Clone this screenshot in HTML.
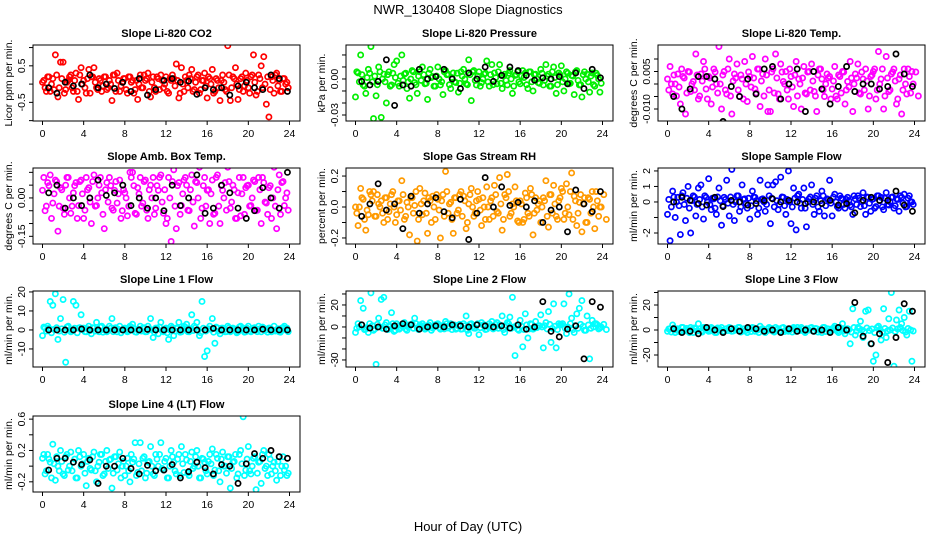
<!DOCTYPE html>
<html><head><meta charset="utf-8"><title>NWR_130408 Slope Diagnostics</title>
<style>
html,body{margin:0;padding:0;background:#fff;}
svg{display:block;font-family:"Liberation Sans",sans-serif;}
</style></head>
<body>
<svg id="chart" width="936" height="540" viewBox="0 0 936 540" xmlns="http://www.w3.org/2000/svg">
<rect x="0" y="0" width="936" height="540" fill="#fff"/>
<text x="468" y="14" text-anchor="middle" font-size="13">NWR_130408  Slope Diagnostics</text>
<text x="468" y="531" text-anchor="middle" font-size="13">Hour of Day (UTC)</text>
</svg>
<script>
// ---- data (colored series at hour = index*0.25; band series at index*0.25+0.125 in band units; black at 0.6+index*0.8) ----
const xTickValues = [0,4,8,12,16,20,24];
const co2Values = [0.05,-0.1,0.2,-0.2,0.15,0.8,-0.35,0.6,0.6,-0.15,0.1,0.25,-0.2,0.3,-0.42,0.45,0.1,-0.25,0.4,0.2,0.45,-0.1,0.15,-0.2,0.2,-0.15,0.1,-0.45,0.25,0.3,-0.2,0.05,0.15,-0.25,0.2,0.1,-0.15,-0.42,0.25,-0.1,0.1,0.3,-0.35,0.2,-0.2,0.15,0.25,-0.1,0.2,-0.25,0.1,0.15,0.55,-0.38,0.45,-0.2,0.1,0.25,0.4,-0.15,0.2,-0.25,0.1,0.3,-0.38,0.15,0.4,-0.2,0.1,-0.45,0.25,-0.15,1.05,-0.45,0.2,0.45,-0.42,0.15,-0.2,0.3,-0.1,0.2,0.8,-0.3,0.25,0.5,0.75,-0.55,-0.9,0.2,-0.25,0.3,0.1,-0.2,0.15,0.05];
const co2Band = [2,-4,4,0,-3,5,-2,3,-5,1,4,-2,2,-4,5,0,-2,3,-5,4,1,-3,2,-1,4,-2,0,5,-4,2,-1,3,-3,4,1,-5,2,0,-2,5,3,-4,1,-2,4,-3,2,0,-4,3,5,-1,2,-5,0,4,-2,3,-4,1,5,-3,2,-1,4,0,-5,3,-2,2,1,-4,5,-2,3,0,-3,4,-1,2,-5,5,1,-4,3,-2,0,4,-3,2,5,-1,-4,3,0,-2];
const co2BandUnit = 0.05;
const co2Black = [-0.1,-0.25,0.05,-0.05,0.0,0.25,-0.1,0.0,-0.12,0.05,-0.2,0.15,-0.3,-0.15,0.1,0.15,0.05,0.08,-0.28,-0.1,-0.15,-0.1,-0.3,-0.05,0.05,-0.1,-0.15,0.25,0.15,-0.2];
const co2Ticks = [-1,-0.5,0,0.5,1];
const co2TickLabels = ["","-0.5","","0.5",""];

const presValues = [-0.015,0.005,0.02,-0.005,-0.012,0.008,0.027,-0.033,-0.014,0.01,-0.032,0.004,-0.02,0.006,-0.005,0.012,0.015,-0.006,0.02,0.004,-0.008,-0.016,0.007,-0.003,-0.012,0.006,0.01,-0.004,-0.017,0.008,0.002,-0.006,0.01,-0.005,-0.013,0.007,0.004,-0.008,0.005,-0.003,-0.011,0.006,0.008,-0.004,0.016,-0.018,0.007,-0.005,0.006,-0.003,0.004,0.015,-0.006,0.012,0.005,-0.004,0.012,-0.008,0.004,-0.005,0.007,-0.012,0.003,0.006,-0.004,0.007,0.005,-0.008,0.006,-0.01,0.004,-0.003,0.008,-0.005,0.012,0.004,-0.006,0.01,-0.012,0.005,0.011,-0.01,0.006,-0.004,0.003,-0.013,0.007,-0.005,-0.015,0.006,0.004,-0.011,0.005,-0.006,0.003,-0.011];
const presBand = [5,-2,3,-5,1,4,-2,2,-4,5,0,-2,3,-5,4,1,-3,2,-1,4,-2,0,5,-4,2,-1,3,-3,4,1,-5,2,0,-2,5,3,-4,1,-2,4,-3,2,0,-4,3,5,-1,2,-5,0,4,-2,3,-4,1,5,-3,2,-1,4,0,-5,3,-2,2,1,-4,5,-2,3,0,-3,4,-1,2,-5,5,1,-4,3,-2,0,4,-3,2,5,-1,-4,3,0,-2,2,-4,4,0,-3];
const presBandUnit = 0.0012;
const presBlack = [-0.002,-0.005,-0.002,0.016,-0.022,-0.005,-0.006,0.008,0.0,0.002,0.008,0.0,-0.008,0.005,0.0,0.01,-0.002,0.003,0.01,0.007,0.003,-0.001,0.001,0.0,0.002,-0.004,0.005,-0.008,0.008,0.001];
const presTicks = [0.02,0.01,0,-0.01,-0.02,-0.03];
const presTickLabels = ["","","0.00","","","-0.03"];

const tempValues = [0.002,0.007,-0.004,0.0,0.004,-0.008,0.003,-0.012,0.005,-0.003,0.001,0.012,-0.006,0.004,0.009,-0.002,0.003,-0.008,0.006,0.0,0.015,-0.01,0.005,-0.004,0.01,-0.012,0.004,0.008,-0.005,0.002,0.009,-0.007,0.003,0.011,-0.002,0.006,-0.009,0.004,0.01,-0.011,-0.011,0.006,0.012,-0.004,0.008,0.001,0.005,-0.006,0.003,-0.009,0.009,0.002,-0.01,0.007,-0.004,0.005,0.008,-0.003,-0.011,0.006,0.002,-0.005,0.004,0.003,-0.002,0.007,-0.006,0.003,0.005,-0.008,0.001,0.009,-0.011,0.004,0.008,-0.004,0.002,0.006,-0.01,0.003,0.005,-0.006,0.013,0.002,-0.01,0.011,-0.003,0.004,0.006,-0.008,0.002,-0.012,0.006,-0.004,0.003,0.005];
const tempBand = [-2,0,3,-4,-1,5,2,-3,4,0,-2,3,-4,1,5,-5,2,-1,4,-3,0,3,-2,5,-4,1,2,-2,3,-5,0,4,-1,2,-3,5,1,-4,3,-2,4,-3,2,-5,4,0,-2,5,-1,3,-4,0,2,-3,4,-2,1,-4,3,5,-2,0,2,-5,1,-4,3,-3,4,-2,-1,2,0,2,-3,4,-2,1,-4,3,5,-2,0,5,-4,2,-2,4,1,-5,3,-2,0,5,-3,0,4,-4];
const tempBandUnit = 0.0012;
const tempBlack = [-0.005,-0.01,-0.002,0.003,0.003,0.002,-0.015,-0.001,-0.005,0.002,-0.004,0.006,0.007,-0.006,0.0,0.006,-0.011,0.005,-0.002,-0.008,-0.001,0.007,-0.003,0.0,0.0,-0.002,-0.001,0.012,0.004,-0.001];
const tempTicks = [0.01,0.005,0,-0.005,-0.01];
const tempTickLabels = ["","0.005","","","-0.010"];

const ambValues = [0.03,-0.05,0.06,0.09,-0.02,0.07,-0.13,0.04,-0.04,0.05,0.08,-0.06,0.02,0.06,-0.03,0.07,-0.08,0.08,0.04,-0.1,0.09,-0.03,0.05,0.02,-0.12,0.06,0.08,-0.04,0.03,-0.02,0.07,-0.05,0.02,-0.07,0.1,0.1,-0.06,0.04,0.08,-0.02,0.07,-0.08,0.05,0.08,-0.04,0.03,0.09,-0.06,-0.1,0.08,-0.17,0.11,-0.12,0.06,-0.03,0.07,0.05,-0.05,0.09,-0.11,0.06,0.12,-0.04,0.08,0.03,-0.1,0.07,-0.06,0.09,-0.1,0.03,0.06,0.12,-0.04,0.05,-0.08,0.02,-0.07,0.08,0.04,0.05,-0.03,0.07,-0.05,0.08,-0.1,0.06,-0.02,0.04,-0.08,0.12,-0.12,0.09,0.06,-0.03,0.02];
const ambBand = [5,-2,3,-5,1,4,-2,2,-4,5,0,-2,3,-5,4,1,-3,2,-1,4,-2,0,5,-4,2,-1,3,-3,4,1,-5,2,0,-2,5,3,-4,1,-2,4,-3,2,0,-4,3,5,-1,2,-5,0,4,-2,3,-4,1,5,-3,2,-1,4,0,-5,3,-2,2,1,-4,5,-2,3,0,-3,4,-1,2,-5,5,1,-4,3,-2,0,4,-3,2,5,-1,-4,3,0,-2,2,-4,4,0,-3];
const ambBandUnit = 0.016;
const ambBlack = [0.02,0.05,-0.04,0.0,-0.03,0.0,0.07,0.01,0.02,0.05,-0.03,0.0,-0.04,0.0,-0.05,0.05,-0.03,0.0,0.09,-0.06,-0.04,0.05,0.02,-0.04,-0.08,-0.05,0.04,0.0,-0.04,0.1];
const ambTicks = [0.1,0.05,0,-0.05,-0.1,-0.15];
const ambTickLabels = ["","","0.00","","","-0.15"];

const rhValues = [0.0,-0.12,0.12,0.05,-0.15,-0.05,0.08,0.1,-0.06,0.02,0.04,-0.1,0.06,-0.03,0.08,0.0,-0.05,0.04,0.17,-0.08,0.03,-0.18,0.06,0.01,-0.22,0.12,-0.05,0.09,-0.17,0.04,0.07,-0.08,0.05,-0.2,0.08,0.23,-0.04,0.03,-0.17,0.06,-0.02,0.1,0.07,-0.14,0.02,0.12,-0.06,0.04,0.05,-0.12,0.0,0.13,-0.08,0.06,0.14,-0.03,0.19,-0.15,0.08,0.21,-0.06,0.02,0.13,-0.09,0.04,-0.1,0.09,-0.04,0.12,-0.18,0.06,0.02,-0.1,0.06,0.17,-0.13,0.08,0.14,-0.06,0.04,0.12,-0.08,0.15,-0.05,0.22,0.07,-0.12,0.03,-0.16,0.06,-0.1,0.05,0.1,-0.14,0.04,0.0];
const rhBand = [-2,0,3,-4,-1,5,2,-3,4,0,-2,3,-4,1,5,-5,2,-1,4,-3,0,3,-2,5,-4,1,2,-2,3,-5,0,4,-1,2,-3,5,1,-4,3,-2,4,-3,2,-5,4,0,-2,5,-1,3,-4,0,2,-3,4,-2,1,-4,3,5,-2,0,2,-5,1,-4,3,-3,4,-2,-1,2,0,2,-3,4,-2,1,-4,3,5,-2,0,5,-4,2,-2,4,1,-5,3,-2,0,5,-3,0,4,-4];
const rhBandUnit = 0.02;
const rhBlack = [-0.06,0.02,0.15,-0.02,0.02,-0.14,0.07,-0.04,0.02,0.06,-0.03,-0.07,0.05,-0.21,-0.04,0.19,0.0,0.13,0.01,0.03,0.0,0.04,-0.1,-0.02,0.0,-0.16,0.11,0.02,-0.03,0.1];
const rhTicks = [0.2,0.1,0,-0.1,-0.2];
const rhTickLabels = ["0.2","","0.0","","-0.2"];

const flowValues = [-0.8,-2.5,0.7,-1.0,0.3,-2.1,0.6,-1.2,1.0,-2.0,0.4,-0.9,0.9,1.1,-1.1,0.3,1.5,-0.5,0.2,-0.8,0.9,-1.5,0.3,1.4,-0.9,2.1,-1.2,0.4,-0.6,1.1,0.2,-0.4,-1.1,0.7,0.3,-0.8,1.4,0.2,-0.6,1.1,-1.4,1.1,1.3,-0.5,1.6,0.3,-0.8,2.0,-1.4,0.9,-1.8,0.5,-0.4,0.9,-1.6,0.2,1.1,-0.8,0.4,-0.6,0.7,-0.9,0.2,1.4,-0.9,0.5,-0.3,0.4,0.2,-0.4,0.3,-0.2,-0.8,0.2,0.4,-0.3,0.6,-0.8,0.3,-0.6,0.2,-0.3,0.4,0.3,-0.5,0.6,-0.2,0.3,-0.4,0.2,-0.6,0.3,0.5,-0.3,0.4,0.0];
const flowBand = [2,-4,4,0,-3,5,-2,3,-5,1,4,-2,2,-4,5,0,-2,3,-5,4,1,-3,2,-1,4,-2,0,5,-4,2,-1,3,-3,4,1,-5,2,0,-2,5,3,-4,1,-2,4,-3,2,0,-4,3,5,-1,2,-5,0,4,-2,3,-4,1,5,-3,2,-1,4,0,-5,3,-2,2,1,-4,5,-2,3,0,-3,4,-1,2,-5,5,1,-4,3,-2,0,4,-3,2,5,-1,-4,3,0,-2];
const flowBandUnit = 0.08;
const flowBlack = [0.0,0.3,0.1,-0.1,-0.2,0.3,-0.3,0.1,0.0,-0.2,-0.1,0.1,0.2,0.0,0.1,0.0,-0.1,0.0,-0.1,0.1,-0.2,-0.1,-0.7,0.1,0.3,0.1,0.1,0.7,-0.2,-0.6];
const flowTicks = [2,1,0,-1,-2];
const flowTickLabels = ["2","1","0","","-2"];

const line1Values = [-3,1,2,15,13,19,-5,6,16,-17,2,-1,15,13,1,8,1,-1,2,-2,1,4,-1,2,0,-1,2,6,1,-1,2,0,1,-1,2,3,-1,0,2,1,-1,2,6,-4,1,-2,4,-1,1,-5,2,-3,1,4,-1,2,3,-1,8,2,4,-3,15,-14,-11,2,6,-7,1,-2,1,-1,2,-1,1,0,-1,2,1,-1,2,-1,1,0,2,-1,1,0,1,-1,2,0,-1,1,2,1];
const line1Band = [5,-2,3,-5,1,4,-2,2,-4,5,0,-2,3,-5,4,1,-3,2,-1,4,-2,0,5,-4,2,-1,3,-3,4,1,-5,2,0,-2,5,3,-4,1,-2,4,-3,2,0,-4,3,5,-1,2,-5,0,4,-2,3,-4,1,5,-3,2,-1,4,0,-5,3,-2,2,1,-4,5,-2,3,0,-3,4,-1,2,-5,5,1,-4,3,-2,0,4,-3,2,5,-1,-4,3,0,-2,2,-4,4,0,-3];
const line1BandUnit = 0.3;
const line1Black = [0,0,0,0,0.5,0,0,0,0,0,0,0,0.3,0,0,0,0,0,0,0,0.8,0,0,0,0,0,0.4,0,0,0];
const line1Ticks = [20,10,0,-10];
const line1TickLabels = ["20","10","0","-10"];

const line2Values = [-5,3,24,17,-2,-5,31,-3,-34,8,25,27,4,-2,13,-4,3,-2,1,4,-3,2,3,8,-1,2,3,-2,1,4,-1,2,3,-2,1,5,-1,3,2,-2,1,-2,3,10,-6,3,-1,2,-7,4,2,-2,3,5,-1,4,2,10,-5,4,9,27,-26,-2,6,-18,12,-10,3,-2,5,1,11,-19,4,14,-14,21,-19,3,2,21,-6,30,8,-5,12,17,24,-3,10,-29,6,3,2,-1];
const line2Band = [-2,0,3,-4,-1,5,2,-3,4,0,-2,3,-4,1,5,-5,2,-1,4,-3,0,3,-2,5,-4,1,2,-2,3,-5,0,4,-1,2,-3,5,1,-4,3,-2,4,-3,2,-5,4,0,-2,5,-1,3,-4,0,2,-3,4,-2,1,-4,3,5,-2,0,2,-5,1,-4,3,-3,4,-2,-1,2,0,2,-3,4,-2,1,-4,3,5,-2,0,5,-4,2,-2,4,1,-5,3,-2,0,5,-3,0,4,-4];
const line2BandUnit = 0.6;
const line2Black = [2,-1,0,-2,1,3,2,-2,0,1,0,2,1,0,2,1,0,1,-1,2,-2,0,23,-4,-9,-2,1,-29,23,18];
const line2Ticks = [30,20,10,0,-10,-20,-30];
const line2TickLabels = ["","20","","0","","","-30"];

const line3Values = [-1,1,4,-2,1,-1,2,0,-1,2,-2,1,5,-1,2,1,-1,2,0,-2,1,2,-1,1,2,-1,1,0,2,-1,1,-2,1,2,-1,0,3,1,-2,1,0,-1,2,1,-1,2,0,-1,1,2,-1,0,2,-1,1,0,2,-1,1,0,-2,2,1,-1,1,3,-1,2,5,-3,1,-11,17,-4,2,7,-6,15,16,-11,-25,-20,3,-8,17,-6,9,30,-29,8,16,5,10,-4,15,-25];
const line3Band = [2,-4,4,0,-3,5,-2,3,-5,1,4,-2,2,-4,5,0,-2,3,-5,4,1,-3,2,-1,4,-2,0,5,-4,2,-1,3,-3,4,1,-5,2,0,-2,5,3,-4,1,-2,4,-3,2,0,-4,3,5,-1,2,-5,0,4,-2,3,-4,1,5,-3,2,-1,4,0,-5,3,-2,2,1,-4,5,-2,3,0,-3,4,-1,2,-5,5,1,-4,3,-2,0,4,-3,2,5,-1,-4,3,0,-2];
const line3BandUnit = 0.4;
const line3Black = [1,-2,-1,-3,2,0,-2,1,-1,2,1,-1,0,-2,1,-1,0,-1,0,-2,2,0,22,-5,-11,-3,-26,-6,21,15];
const line3Ticks = [30,20,10,0,-10,-20];
const line3TickLabels = ["","20","","0","","-20"];

const line4Values = [0.1,-0.1,0.15,0.05,0.28,-0.18,0.0,0.2,-0.1,0.12,-0.05,0.18,0.05,-0.15,0.2,0.0,0.15,-0.25,0.1,-0.05,0.18,-0.2,0.05,0.15,-0.1,0.2,0.08,-0.28,0.12,-0.05,0.18,0.0,-0.12,0.1,-0.2,0.05,0.3,-0.08,0.3,0.1,-0.15,0.05,0.25,-0.1,0.15,0.0,0.3,-0.05,0.1,-0.15,0.2,0.05,-0.1,0.15,0.25,-0.08,0.08,-0.12,0.18,0.0,0.2,-0.15,0.1,0.05,-0.1,0.15,0.22,-0.05,0.1,-0.2,0.18,0.0,0.12,-0.28,0.05,0.15,-0.1,0.2,0.63,-0.05,0.25,-0.1,0.1,-0.3,0.05,-0.22,0.2,0.0,0.15,-0.1,0.05,-0.18,0.12,0.0,-0.05,-0.12];
const line4Band = [5,-2,3,-5,1,4,-2,2,-4,5,0,-2,3,-5,4,1,-3,2,-1,4,-2,0,5,-4,2,-1,3,-3,4,1,-5,2,0,-2,5,3,-4,1,-2,4,-3,2,0,-4,3,5,-1,2,-5,0,4,-2,3,-4,1,5,-3,2,-1,4,0,-5,3,-2,2,1,-4,5,-2,3,0,-3,4,-1,2,-5,5,1,-4,3,-2,0,4,-3,2,5,-1,-4,3,0,-2,2,-4,4,0,-3];
const line4BandUnit = 0.03;
const line4Black = [-0.05,0.1,0.1,0.05,0.02,0.08,-0.22,0.0,0.0,0.1,-0.03,-0.1,0.01,-0.06,-0.05,0.02,-0.15,-0.07,0.05,-0.02,-0.1,0.02,0.0,-0.22,0.03,0.16,0.1,0.2,0.12,0.1];
const line4Ticks = [0.6,0.4,0.2,0,-0.2];
const line4TickLabels = ["0.6","","0.2","","-0.2"];

// ---- layout ----
const NS = "http://www.w3.org/2000/svg";
const svg = document.getElementById("chart");
const colLeft = [33, 346, 658];
const rowTop = [45, 168, 291, 416];
const boxW = 267, boxH = 76;
const panels = [
 {name:"co2", title:"Slope Li-820 CO2", ylab:"Licor ppm per min.", col:0,row:0, dom:[-1.01,1.07], vals:co2Values, band:co2Band, unit:co2BandUnit, blk:co2Black, ticks:co2Ticks, labels:co2TickLabels, color:"#ff0000"},
 {name:"pressure", title:"Slope Li-820 Pressure", ylab:"kPa per min.", col:1,row:0, dom:[-0.035,0.0283], vals:presValues, band:presBand, unit:presBandUnit, blk:presBlack, ticks:presTicks, labels:presTickLabels, color:"#00ee00"},
 {name:"li820-temp", title:"Slope Li-820 Temp.", ylab:"degrees C per min.", col:2,row:0, dom:[-0.0148,0.0156], vals:tempValues, band:tempBand, unit:tempBandUnit, blk:tempBlack, ticks:tempTicks, labels:tempTickLabels, color:"#ff00ff"},
 {name:"amb-box-temp", title:"Slope Amb. Box Temp.", ylab:"degrees C per min.", col:0,row:1, dom:[-0.18,0.117], vals:ambValues, band:ambBand, unit:ambBandUnit, blk:ambBlack, ticks:ambTicks, labels:ambTickLabels, color:"#ff00ff"},
 {name:"gas-stream-rh", title:"Slope Gas Stream RH", ylab:"percent per min.", col:1,row:1, dom:[-0.239,0.252], vals:rhValues, band:rhBand, unit:rhBandUnit, blk:rhBlack, ticks:rhTicks, labels:rhTickLabels, color:"#ff9a00"},
 {name:"sample-flow", title:"Slope Sample Flow", ylab:"ml/min per min.", col:2,row:1, dom:[-2.71,2.19], vals:flowValues, band:flowBand, unit:flowBandUnit, blk:flowBlack, ticks:flowTicks, labels:flowTickLabels, color:"#0000ff"},
 {name:"line1-flow", title:"Slope Line 1 Flow", ylab:"ml/min per min.", col:0,row:2, dom:[-19.5,20.5], vals:line1Values, band:line1Band, unit:line1BandUnit, blk:line1Black, ticks:line1Ticks, labels:line1TickLabels, color:"#00ffff"},
 {name:"line2-flow", title:"Slope Line 2 Flow", ylab:"ml/min per min.", col:1,row:2, dom:[-36.4,32.7], vals:line2Values, band:line2Band, unit:line2BandUnit, blk:line2Black, ticks:line2Ticks, labels:line2TickLabels, color:"#00ffff"},
 {name:"line3-flow", title:"Slope Line 3 Flow", ylab:"ml/min per min.", col:2,row:2, dom:[-29.6,31.2], vals:line3Values, band:line3Band, unit:line3BandUnit, blk:line3Black, ticks:line3Ticks, labels:line3TickLabels, color:"#00ffff"},
 {name:"line4-flow", title:"Slope Line 4 (LT) Flow", ylab:"ml/min per min.", col:0,row:3, dom:[-0.33,0.64], vals:line4Values, band:line4Band, unit:line4BandUnit, blk:line4Black, ticks:line4Ticks, labels:line4TickLabels, color:"#00ffff"}
];

function mk(tag, attrs, parent){
  const e = document.createElementNS(NS, tag);
  for (const k in attrs) e.setAttribute(k, attrs[k]);
  (parent||svg).appendChild(e);
  return e;
}

panels.forEach(p => {
  const L = colLeft[p.col], T = rowTop[p.row], B = T + boxH;
  const xScale = h => L + 9.5 + h * (247 / 24);
  const yScale = v => B - (v - p.dom[0]) / (p.dom[1] - p.dom[0]) * boxH;
  const g = mk("g", {});
  
  

  const t = mk("text", {x: L + boxW/2, y: T - 8, "text-anchor":"middle", "font-size":"11", "font-weight":"bold"}, g);
  t.textContent = p.title;
  
  

  const yl = mk("text", {x:0, y:0, transform:`translate(${L-21},${T+boxH/2}) rotate(-90)`, "text-anchor":"middle", "font-size":"10.5"}, g);
  yl.textContent = p.ylab;
  
  

  xTickValues.forEach(h => {
    const x = xScale(h);
    const tk = mk("line", {x1:x, x2:x, y1:B, y2:B+4, stroke:"#000", "stroke-width":"1"}, g);
    
    
    const lb = mk("text", {x:x, y:B+16, "text-anchor":"middle", "font-size":"10.5"}, g);
    lb.textContent = String(h);
    
    
  });
  p.ticks.forEach((v, i) => {
    const y = yScale(v);
    const tk = mk("line", {x1:L-4, x2:L, y1:y, y2:y, stroke:"#000", "stroke-width":"1"}, g);
    
    
    if (p.labels[i]) {
      const lb = mk("text", {x:0, y:0, transform:`translate(${L-8},${y}) rotate(-90)`, "text-anchor":"middle", "font-size":"10.5"}, g);
      lb.textContent = p.labels[i];
      
      
    }
  });

  const clipId = "clip-" + p.name;
  const cp = mk("clipPath", {id: clipId}, g);
  mk("rect", {x:L, y:T, width:boxW, height:boxH}, cp);
  const pts = mk("g", {"clip-path":`url(#${clipId})`}, g);
  
  

  p.band.forEach((v, i) => {
    const c = mk("circle", {cx: xScale(i*0.25 + 0.125), cy: yScale(v * p.unit), r:"2.6", fill:"none", stroke:p.color, "stroke-width":"1.7"}, pts);
    
    
  });
  p.vals.forEach((v, i) => {
    const c = mk("circle", {cx: xScale(i*0.25), cy: yScale(v), r:"2.6", fill:"none", stroke:p.color, "stroke-width":"1.7"}, pts);
    
    
  });
  p.blk.forEach((v, i) => {
    const c = mk("circle", {cx: xScale(0.6 + i*0.8), cy: yScale(v), r:"2.6", fill:"none", stroke:"#000", "stroke-width":"1.7"}, pts);
    
    
  });

  const box = mk("rect", {x:L, y:T, width:boxW, height:boxH, fill:"none", stroke:"#000", "stroke-width":"1"}, g);
  
  
});
</script>
</body></html>
